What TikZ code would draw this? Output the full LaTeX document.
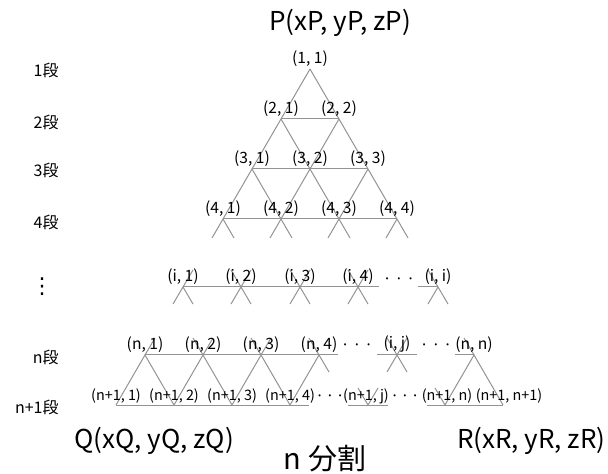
\documentclass[tikz,border=0pt]{standalone}
\usepackage{fontspec}
\setmainfont{Noto Sans CJK JP}
\newfontfamily\symfont{DejaVu Sans}
\begin{document}
\begin{tikzpicture}[x=0.5pt,y=-0.5pt,
  edge/.style={draw=gray!85,line width=0.5pt},
  lbl/.style={anchor=south,inner sep=1pt,font=\fontsize{7.8}{9}\selectfont},
  lblsm/.style={lbl,inner sep=0.5pt,font=\fontsize{7.2}{9}\selectfont},
  dots/.style={inner sep=0pt,font=\fontsize{7.8}{9}\selectfont},
  rowlbl/.style={anchor=east,inner sep=0pt,font=\fontsize{8}{9}\selectfont},
  big/.style={inner sep=0pt,font=\fontsize{13}{15}\selectfont}]
\useasboundingbox (0,0) rectangle (608,474);

% vertices, rows 1-4
\coordinate (a11) at (310,69);
\coordinate (a21) at (281,119);
\coordinate (a22) at (339,119);
\coordinate (a31) at (252,169);
\coordinate (a32) at (310,169);
\coordinate (a33) at (368,169);
\coordinate (a41) at (223,219);
\coordinate (a42) at (281,219);
\coordinate (a43) at (339,219);
\coordinate (a44) at (397,219);

% vertices, row i
\coordinate (b1) at (183,287);
\coordinate (b2) at (241,287);
\coordinate (b3) at (300,287);
\coordinate (b4) at (358,287);
\coordinate (bend) at (379,287);
\coordinate (bstart) at (418,287);
\coordinate (bi) at (438,287);

% vertices, rows n and n+1
\coordinate (c1) at (145,355);
\coordinate (c2) at (203,355);
\coordinate (c3) at (261,355);
\coordinate (c4) at (319,355);
\coordinate (cend) at (338,355);
\coordinate (cjl) at (377,355);
\coordinate (cj) at (397,355);
\coordinate (cjr) at (417,355);
\coordinate (cnl) at (455,355);
\coordinate (cn) at (474,355);
\coordinate (d1) at (116,405);
\coordinate (d2) at (174,405);
\coordinate (d3) at (232,405);
\coordinate (d4) at (290,405);
\coordinate (dend) at (309,405);
\coordinate (djl) at (348,405);
\coordinate (dj) at (368,405);
\coordinate (djr) at (388,405);
\coordinate (dnl) at (427,405);
\coordinate (dn) at (445,405);
\coordinate (dn1) at (503,405);

% rows 1-4
\draw[edge] (a11) -- (a21) -- (a31) -- (a41) -- +(-11,19);
\draw[edge] (a11) -- (a22) -- (a33) -- (a44) -- +(11,19);
\draw[edge] (a21) -- (a22);
\draw[edge] (a31) -- (a33);
\draw[edge] (a41) -- (a44);
\draw[edge] (a21) -- (a32) -- (a43) -- +(11,19);
\draw[edge] (a31) -- (a42) -- +(11,19);
\draw[edge] (a41) -- +(11,19);
\draw[edge] (a22) -- (a32) -- (a42) -- +(-11,19);
\draw[edge] (a33) -- (a43) -- +(-11,19);
\draw[edge] (a44) -- +(-11,19);

% row i
\draw[edge] (b1) -- (bend);
\draw[edge] (bstart) -- (bi);
\draw[edge] (b1) -- +(10,-17);
\draw[edge] (b1) -- +(-10,17);
\draw[edge] (b1) -- +(10,17);
\foreach \v in {b2,b3,b4,cj} {
  \draw[edge] (\v) ++(-10,-17) -- ++(20,34);
  \draw[edge] (\v) ++(10,-17) -- ++(-20,34);
}
\draw[edge] (bi) -- +(-10,-17);
\draw[edge] (bi) -- +(-10,17);
\draw[edge] (bi) -- +(10,17);

% rows n and n+1
\draw[edge] (c1) -- (cend);
\draw[edge] (cjl) -- (cjr);
\draw[edge] (cnl) -- (cn);
\draw[edge] (d1) -- (dend);
\draw[edge] (djl) -- (djr);
\draw[edge] (dnl) -- (dn1);
\draw[edge] (d1) -- (c1) -- (d2) -- (c2) -- (d3) -- (c3) -- (d4) -- (c4) -- +(10,17);
\draw[edge] (dn) -- (cn) -- (dn1);
\draw[edge] (c1) -- +(10,-17);
\draw[edge] (c2) -- +(-10,-17);
\draw[edge] (c2) -- +(10,-17);
\draw[edge] (c3) -- +(-10,-17);
\draw[edge] (c3) -- +(10,-17);
\draw[edge] (c4) -- +(-10,-17);
\draw[edge] (cn) -- +(-10,-17);
\draw[edge] (dj) -- +(-10,-17);
\draw[edge] (dj) -- +(10,-17);
\draw[edge] (dn) -- +(-10,-17);

% vertex labels
\node[lbl] (l11) at (a11) {(1, 1)};
\node[lbl] (l21) at (a21) {(2, 1)};
\node[lbl] (l22) at (a22) {(2, 2)};
\node[lbl] (l31) at (a31) {(3, 1)};
\node[lbl] (l32) at (a32) {(3, 2)};
\node[lbl] (l33) at (a33) {(3, 3)};
\node[lbl] (l41) at (a41) {(4, 1)};
\node[lbl] (l42) at (a42) {(4, 2)};
\node[lbl] (l43) at (a43) {(4, 3)};
\node[lbl] (l44) at (a44) {(4, 4)};
\node[lbl] (li1) at (b1) {(i, 1)};
\node[lbl] (li2) at (b2) {(i, 2)};
\node[lbl] (li3) at (b3) {(i, 3)};
\node[lbl] (li4) at (b4) {(i, 4)};
\node[lbl] (lii) at (bi) {(i, i)};
\node[lbl] (ln1) at (c1) {(n, 1)};
\node[lbl] (ln2) at (c2) {(n, 2)};
\node[lbl] (ln3) at (c3) {(n, 3)};
\node[lbl] (ln4) at (c4) {(n, 4)};
\node[lbl] (lij) at (cj) {(i, j)};
\node[lbl] (lnn) at (cn) {(n, n)};
\node[lblsm] (lm1) at (d1) {(n+1, 1)};
\node[lblsm] (lm2) at (d2) {(n+1, 2)};
\node[lblsm] (lm3) at (d3) {(n+1, 3)};
\node[lblsm] (lm4) at (d4) {(n+1, 4)};
\node[lblsm,xshift=-1pt] (lmj) at (dj) {(n+1, j)};
\node[lblsm,xshift=1pt] (lmn) at (dn) {(n+1, n)};
\node[lblsm,xshift=3pt] (lmn1) at (dn1) {(n+1, n+1)};

% dots between labels
\node[dots] (di) at (399,281) {·\hspace{1.5pt}·\hspace{1.5pt}·};
\node[dots] (dn1a) at (357,347) {·\hspace{1.5pt}·\hspace{1.5pt}·};
\node[dots] (dn1b) at (436,347) {·\hspace{1.5pt}·\hspace{1.5pt}·};
\node[dots] (dm1a) at (330,398) {·\hspace{0.8pt}·\hspace{0.8pt}·};
\node[dots] (dm1b) at (405,398) {·\hspace{0.8pt}·\hspace{0.8pt}·};

% row names
\node[rowlbl] (r1) at (59,70) {1段};
\node[rowlbl] (r2) at (59,122) {2段};
\node[rowlbl] (r3) at (59,170) {3段};
\node[rowlbl] (r4) at (59,222) {4段};
\node[inner sep=0pt,font=\symfont\fontsize{11}{12}\selectfont] (ri) at (42,287) {⋮};
\node[rowlbl] (rn) at (59,357) {n段};
\node[rowlbl] (rn1) at (59,407) {n+1段};

% corner points
\node[big] (P) at (340,23) {P(xP, yP, zP)};
\node[big,anchor=west] (Q) at (74,441) {Q(xQ, yQ, zQ)};
\node[big,anchor=east] (R) at (606,441) {R(xR, yR, zR)};
\node[inner sep=0pt,font=\fontsize{14.5}{16}\selectfont] (split) at (325,459) {n 分割};
\end{tikzpicture}
\end{document}
